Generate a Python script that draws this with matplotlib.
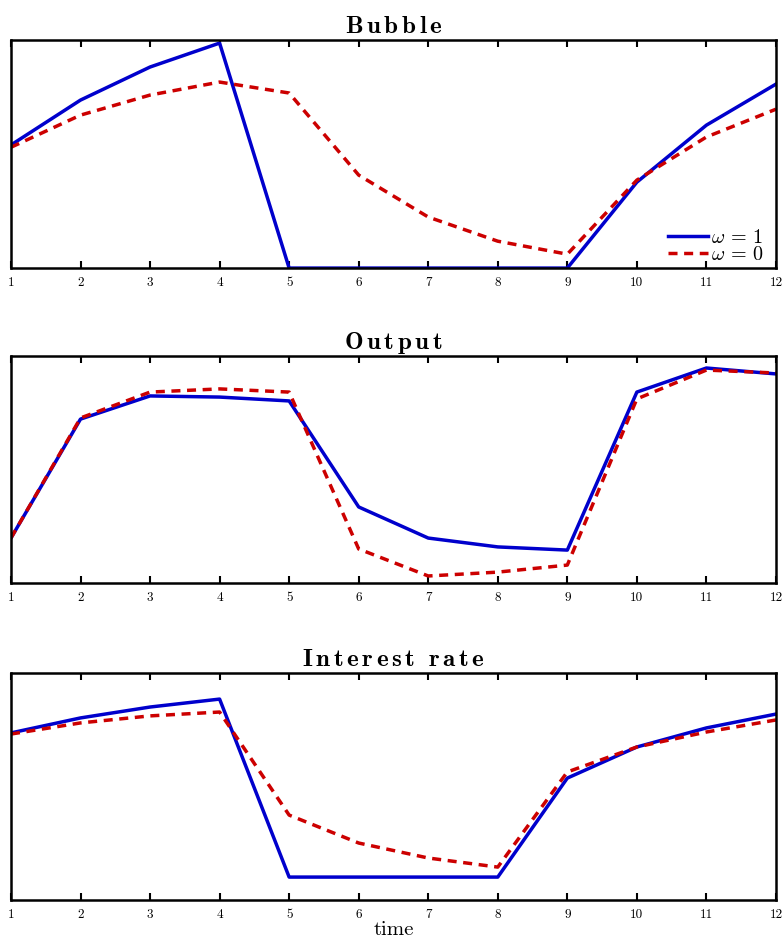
import matplotlib
matplotlib.use("Agg")
import matplotlib.pyplot as plt
import numpy as np

# data (as % of each panel's height)
time = np.arange(1, 13)
bubble_w1 = [54.0, 73.7, 88.2, 98.7, 0, 0, 0, 0, 0, 37.7, 62.7, 80.7]
bubble_w0 = [53.0, 67.1, 75.9, 81.6, 76.8, 40.8, 22.4, 11.8, 6.1, 38.6, 57.5, 69.7]
output_w1 = [19.8, 72.2, 82.4, 81.9, 80.2, 33.5, 19.8, 15.9, 14.5, 84.1, 94.7, 92.1]
output_w0 = [19.8, 72.7, 84.1, 85.5, 84.1, 15.0, 3.1, 4.8, 7.9, 81.1, 93.8, 92.5]
rate_w1 = [73.6, 80.2, 85.0, 88.5, 10.1, 10.1, 10.1, 10.1, 53.7, 67.4, 75.8, 81.9]
rate_w0 = [73.1, 78.0, 81.1, 82.8, 37.4, 25.1, 18.5, 14.5, 56.4, 67.4, 74.0, 79.3]
titles = ["Bubble", "Output", "Interest rate"]

plt.rcParams['mathtext.fontset'] = 'cm'
plt.rcParams['font.family'] = ['cmr10', 'DejaVu Serif']
plt.rcParams['axes.formatter.use_mathtext'] = True


def spaced_bold(s):
    # letter-spaced bold title, like the original
    parts = []
    for w in s.split(' '):
        parts.append(r'\,'.join(r'\mathbf{%s}' % c for c in w))
    return '$' + r'\ \;'.join(parts) + '$'


fig = plt.figure(figsize=(7.83, 9.44), dpi=100)
bottoms = [0.716, 0.3824, 0.0466]
heights = [0.2415, 0.2405, 0.2405]
series = [(bubble_w1, bubble_w0), (output_w1, output_w0), (rate_w1, rate_w0)]

for i in range(3):
    ax = fig.add_axes([0.014, bottoms[i], 0.977, heights[i]])
    s1, s0 = series[i]
    ax.plot(time, s1, color='#0000cc', lw=2.5, label=r'$\omega\,=\,1$')
    ax.plot(time, s0, color='#cc0000', lw=2.5, ls=(0, (2.6, 1.9)), label=r'$\omega\,=\,0$')
    ax.set_xlim(1, 12)
    ax.set_ylim(0, 100)
    ax.set_yticks([])
    ax.set_xticks(time)
    ax.set_xticklabels([str(t) for t in time], fontsize=9.5)
    ax.tick_params(axis='x', direction='in', top=True, length=5, width=1.5, pad=6.5)
    for sp in ax.spines.values():
        sp.set_linewidth(1.8)
    ax.set_title(spaced_bold(titles[i]), fontsize=18, pad=5)
    if i == 0:
        ax.legend(loc='lower right', frameon=False, fontsize=14.5, handlelength=2.0,
                  handletextpad=0.15, borderaxespad=0.0, labelspacing=-0.02,
                  borderpad=0.3, bbox_to_anchor=(0.992, -0.01))
    if i == 2:
        ax.set_xlabel('time', fontsize=15, labelpad=0)

fig.savefig('out.png', dpi=100)
